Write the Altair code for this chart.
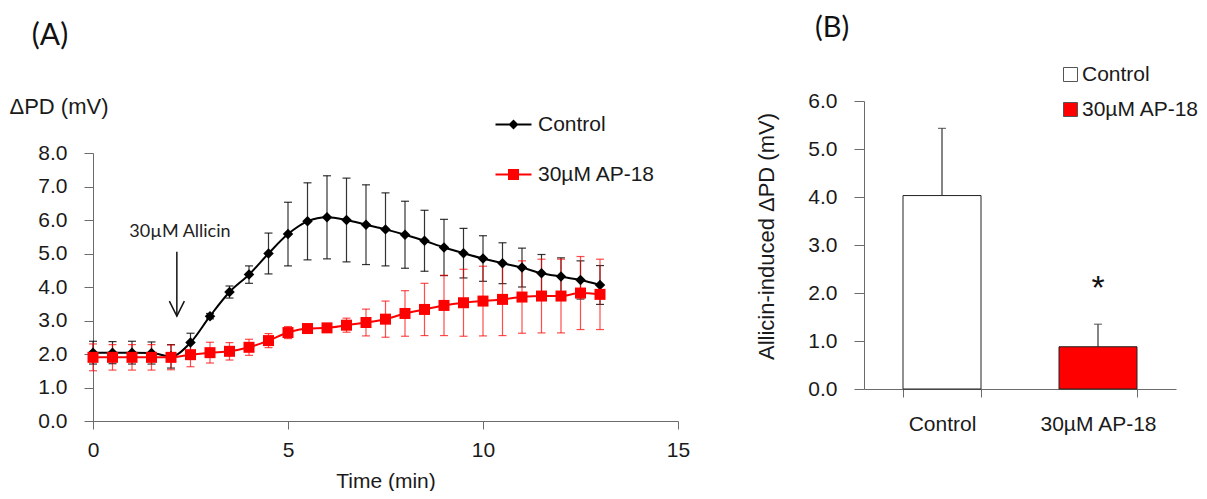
import altair as alt
import pandas as pd

# ---------------- data: panel A (time course) ----------------
time_min = [0, 0.5, 1, 1.5, 2, 2.5, 3, 3.5, 4, 4.5, 5, 5.5, 6, 6.5, 7,
            7.5, 8, 8.5, 9, 9.5, 10, 10.5, 11, 11.5, 12, 12.5, 13]
control_mean = [2.04, 2.04, 2.04, 2.03, 1.93, 2.34, 3.13, 3.85, 4.37, 5.00, 5.58, 5.96, 6.08, 6.00, 5.86,
                5.72, 5.56, 5.38, 5.18, 5.01, 4.85, 4.71, 4.58, 4.41, 4.31, 4.21, 4.06]
control_sem = [0.34, 0.33, 0.34, 0.33, 0.35, 0.28, 0.08, 0.18, 0.26, 0.61, 0.95, 1.15, 1.24, 1.25, 1.19,
               1.09, 1.00, 0.91, 0.84, 0.74, 0.68, 0.61, 0.58, 0.56, 0.56, 0.57, 0.58]
ap18_mean = [1.90, 1.90, 1.90, 1.90, 1.90, 1.98, 2.04, 2.08, 2.20, 2.40, 2.64, 2.76, 2.78, 2.86, 2.94,
             3.04, 3.21, 3.33, 3.45, 3.53, 3.58, 3.63, 3.70, 3.73, 3.73, 3.82, 3.78]
ap18_sem = [0.40, 0.38, 0.38, 0.38, 0.37, 0.36, 0.31, 0.26, 0.24, 0.21, 0.18, 0.05, 0.05, 0.21, 0.40,
            0.54, 0.68, 0.78, 0.90, 1.00, 1.04, 1.08, 1.08, 1.10, 1.10, 1.09, 1.05]
series_names = ["Control", "30µM AP-18"]
series_colors = ["#000000", "#FF0000"]
series_shapes = ["diamond", "square"]
series_sizes = [110, 121]
series_err_opacity = [0.8, 0.7]

# annotation (data units)
arrow_time = [2.15]
arrow_top = [5.05]
arrow_tip = [3.13]
arrow_label = ["30µM Allicin"]
arrow_label_y = [5.65]
arrow_label_x = [2.23]

# ---------------- data: panel B (bars) ----------------
bar_groups = ["Control", "30µM AP-18"]
bar_means = [4.03, 0.88]
bar_sems = [1.40, 0.47]
bar_fills = ["#FFFFFF", "#FF0000"]
bar_sig = ["", "*"]

# ---------------- tables ----------------
rows = []
for name, means, sems in [(series_names[0], control_mean, control_sem),
                          (series_names[1], ap18_mean, ap18_sem)]:
    for t, m, s in zip(time_min, means, sems):
        rows.append({"time": t, "mean": m, "lo": m - s, "hi": m + s, "series": name})
dfA = pd.DataFrame(rows)
dfArrow = pd.DataFrame({"ax": arrow_time, "ay1": arrow_top, "ay2": arrow_tip,
                        "tx": arrow_label_x, "ty": arrow_label_y, "label": arrow_label})
dfB = pd.DataFrame({"group": bar_groups, "mean": bar_means,
                    "top": [m + s for m, s in zip(bar_means, bar_sems)], "sig": bar_sig})
one = pd.DataFrame({"k": [0]})

FONT = "Liberation Sans"
AXC = "#6b6b6b"
TXT = "#1a1a1a"

xA = alt.Scale(domain=[0, 15], range=[85, 670], nice=False, zero=False)
yA = alt.Scale(domain=[0, 8], range=[413, 145], nice=False, zero=False)
axA_x = alt.Axis(orient="bottom", offset=-70, values=[0, 5, 10, 15], format="d", title="Time (min)",
                 grid=False, tickSize=8, labelPadding=10, titleY=66, titleBaseline="alphabetic",
                 labelFlush=False,
                 domainColor=AXC, tickColor=AXC, labelFont=FONT, labelFontSize=21, labelColor=TXT,
                 titleFont=FONT, titleFontSize=21, titleFontWeight="normal", titleColor=TXT)
axA_y = alt.Axis(orient="left", offset=-85, values=[0, 1, 2, 3, 4, 5, 6, 7, 8], format=".1f",
                 title="ΔPD (mV)", titleAngle=0, titleX=-84, titleY=98, titleAlign="left",
                 titleBaseline="middle", grid=False, tickSize=9, labelPadding=17, labelFlush=False,
                 domainColor=AXC, tickColor=AXC, labelFont=FONT, labelFontSize=21, labelColor=TXT,
                 titleFont=FONT, titleFontSize=22, titleFontWeight="normal", titleColor=TXT)
colorA = alt.Scale(domain=series_names, range=series_colors)


def XA(field):
    return alt.X(field, scale=xA, axis=axA_x)


def YA(field):
    return alt.Y(field, scale=yA, axis=axA_y)


base = alt.Chart(dfA)
layersA = []
for name, col, shp, sz, eop in zip(series_names, series_colors, series_shapes, series_sizes,
                                   series_err_opacity):
    sub = base.transform_filter(alt.datum.series == name)
    layersA.append(sub.mark_rule(strokeWidth=1.2, color=col, opacity=eop).encode(
        x=XA("time:Q"), y=YA("lo:Q"), y2="hi:Q"))
    layersA.append(sub.mark_tick(orient="horizontal", size=8, thickness=1.2, color=col,
                                 opacity=eop).encode(x=XA("time:Q"), y=YA("lo:Q")))
    layersA.append(sub.mark_tick(orient="horizontal", size=8, thickness=1.2, color=col,
                                 opacity=eop).encode(x=XA("time:Q"), y=YA("hi:Q")))
for name, col, shp, sz in zip(series_names, series_colors, series_shapes, series_sizes):
    sub = base.transform_filter(alt.datum.series == name)
    layersA.append(sub.mark_line(strokeWidth=2, interpolate="monotone", color=col).encode(
        x=XA("time:Q"), y=YA("mean:Q")))
    layersA.append(sub.mark_point(shape=shp, filled=True, size=sz, opacity=1, color=col).encode(
        x=XA("time:Q"), y=YA("mean:Q")))

path_c = "M-1.8,-0.1L-0.4,-0.1L0,-0.5L0.4,-0.1L1.8,-0.1L1.8,0.1L0.4,0.1L0,0.5L-0.4,0.1L-1.8,0.1Z"
path_r = ("M-1.8,-0.1L-0.55,-0.1L-0.55,-0.55L0.55,-0.55L0.55,-0.1L1.8,-0.1L1.8,0.1L0.55,0.1"
          "L0.55,0.55L-0.55,0.55L-0.55,0.1L-1.8,0.1Z")
legA = alt.Legend(title=None, orient="none", legendX=495, legendY=106, symbolSize=400,
                  labelOffset=14, rowPadding=28, labelFont=FONT, labelFontSize=21, labelColor=TXT,
                  padding=0, symbolOpacity=1, symbolStrokeWidth=0, labelLimit=400)
leg_layer = base.transform_filter("false").mark_point(filled=True, size=400, opacity=1).encode(
    x=XA("time:Q"), y=YA("mean:Q"),
    color=alt.Color("series:N", scale=colorA, legend=legA),
    shape=alt.Shape("series:N", scale=alt.Scale(domain=series_names, range=[path_c, path_r]), legend=legA))
layersA.append(leg_layer)

arr = alt.Chart(dfArrow)
layersA.append(arr.mark_rule(strokeWidth=1.5, color="#111").encode(
    x=XA("ax:Q"), y=YA("ay1:Q"), y2="ay2:Q"))
layersA.append(arr.mark_point(shape="M-1,-2L0,0L1,-2", filled=False, size=225, strokeWidth=1.5,
                              color="#111", opacity=1).encode(x=XA("ax:Q"), y=YA("ay2:Q")))
layersA.append(arr.mark_text(font="Lato", fontSize=18, color="#222", baseline="middle",
                             align="center").encode(x=XA("tx:Q"), y=YA("ty:Q"), text="label:N"))
layersA.append(alt.Chart(one).mark_text(text="(A)", font="Lato", fontSize=30, color="#111",
                                        align="center", baseline="middle").encode(
    x=alt.value(42), y=alt.value(28)))

panelA = alt.layer(*layersA)

# ---------------- panel B ----------------
xB = alt.Scale(domain=bar_groups, range=[856, 1168], paddingInner=0.5, paddingOuter=0.25)
yB = alt.Scale(domain=[0, 6], range=[381, 93], nice=False, zero=True)
axB_x = alt.Axis(orient="bottom", offset=-102, title=None, tickBand="extent", labelAngle=0,
                 grid=False, tickSize=8, labelPadding=16, domainColor=AXC, tickColor=AXC,
                 labelFont=FONT, labelFontSize=21, labelColor=TXT)
axB_y = alt.Axis(orient="left", offset=-856, values=[0, 1, 2, 3, 4, 5, 6], format=".1f",
                 title="Allicin-induced ΔPD  (mV)", titleAngle=270, titleX=-98, titleY=228,
                 titleAlign="center", titleBaseline="middle", grid=False, tickSize=10, labelPadding=17,
                 labelFlush=False, domainColor=AXC, tickColor=AXC, labelFont=FONT, labelFontSize=21,
                 labelColor=TXT, titleFont=FONT, titleFontSize=22, titleFontWeight="normal",
                 titleColor=TXT)
legB = alt.Legend(title=None, orient="none", legendX=1052, legendY=56, symbolType="square",
                  symbolSize=196, symbolStrokeColor="#555", symbolStrokeWidth=1, labelOffset=1,
                  rowPadding=13, labelFont=FONT, labelFontSize=21, labelColor=TXT, padding=0,
                  labelLimit=400)


def XB():
    return alt.X("group:N", scale=xB, axis=axB_x, sort=bar_groups)


def YB(field):
    return alt.Y(field, scale=yB, axis=axB_y)


bB = alt.Chart(dfB)
b_err = bB.mark_rule(strokeWidth=1.2, color="#333").encode(x=XB(), y=YB("mean:Q"), y2="top:Q")
b_cap = bB.mark_tick(orient="horizontal", size=8, thickness=1.2, color="#333").encode(x=XB(), y=YB("top:Q"))
bars = bB.mark_bar(stroke="#222", strokeWidth=1).encode(
    x=XB(), y=YB("mean:Q"),
    fill=alt.Fill("group:N", scale=alt.Scale(domain=bar_groups, range=bar_fills), legend=legB))
star = bB.mark_text(font=FONT, fontSize=34, color="#111", baseline="alphabetic", dy=-25,
                    align="center").encode(x=XB(), y=YB("top:Q"), text="sig:N")
labB = alt.Chart(one).mark_text(text="(B)", font="Lato", fontSize=29, color="#111",
                                 align="center", baseline="middle").encode(x=alt.value(824), y=alt.value(20))

panelB = alt.layer(b_err, b_cap, bars, star, labB)

chart = alt.layer(panelA, panelB).resolve_scale(
    x="independent", y="independent", color="independent", fill="independent", shape="independent"
).properties(
    width=1191, height=483, padding=0, background="white",
    autosize=alt.AutoSizeParams(type="none")
).configure_view(stroke=None)

chart.save("out.html", embed_options={"renderer": "svg", "actions": False})
